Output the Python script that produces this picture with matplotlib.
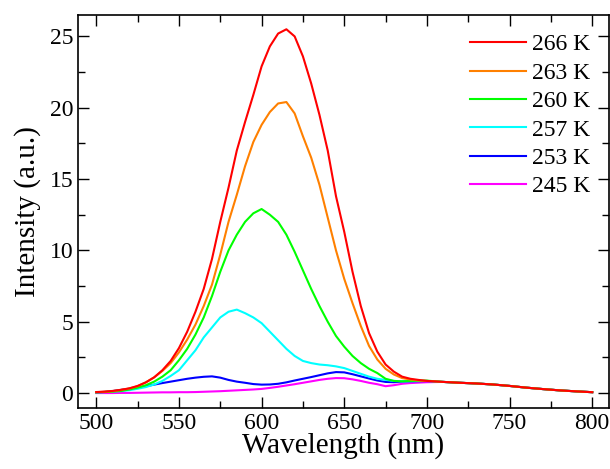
import matplotlib

matplotlib.use("Agg")
import matplotlib.pyplot as plt
from matplotlib.ticker import MultipleLocator

plt.rcParams["font.family"] = "serif"
plt.rcParams["font.serif"] = ["Liberation Serif", "Times New Roman", "DejaVu Serif"]

# wavelength grid (nm): 5 nm steps to 700, then 10 nm steps
wavelength = list(range(500, 701, 5)) + list(range(710, 801, 10))

# common tail past 700 nm, where all spectra overlap
tail = [0.78, 0.72, 0.67, 0.60, 0.50, 0.38, 0.28, 0.19, 0.12, 0.06]

i_266 = [0.07, 0.10, 0.15, 0.23, 0.33, 0.50, 0.75, 1.10, 1.60, 2.25,
         3.15, 4.30, 5.70, 7.30, 9.40, 12.0, 14.4, 17.0, 19.0, 20.9,
         22.9, 24.3, 25.2, 25.5, 25.0, 23.6, 21.7, 19.5, 17.0, 13.8,
         11.3, 8.5, 6.1, 4.2, 2.9, 2.0, 1.5, 1.15, 1.0, 0.92, 0.85] + tail
i_263 = [0.06, 0.09, 0.13, 0.22, 0.32, 0.48, 0.75, 1.10, 1.55, 2.10,
         2.85, 3.75, 4.80, 6.10, 7.60, 9.70, 12.0, 13.9, 15.9, 17.6,
         18.8, 19.7, 20.3, 20.4, 19.6, 18.0, 16.5, 14.6, 12.3, 10.0,
         8.0, 6.3, 4.7, 3.3, 2.35, 1.7, 1.3, 1.05, 0.95, 0.88, 0.85] + tail
i_260 = [0.05, 0.07, 0.10, 0.15, 0.25, 0.38, 0.55, 0.80, 1.15, 1.60,
         2.30, 3.10, 4.10, 5.30, 6.80, 8.50, 10.0, 11.1, 12.0, 12.6,
         12.9, 12.5, 12.0, 11.1, 9.9, 8.6, 7.3, 6.1, 5.0, 4.0,
         3.25, 2.6, 2.1, 1.7, 1.4, 1.0, 0.85, 0.82, 0.85, 0.87, 0.87] + tail
i_257 = [0.05, 0.07, 0.10, 0.14, 0.20, 0.30, 0.42, 0.60, 0.85, 1.20,
         1.60, 2.30, 3.00, 3.90, 4.60, 5.30, 5.70, 5.85, 5.60, 5.30,
         4.90, 4.30, 3.70, 3.10, 2.60, 2.25, 2.10, 2.00, 1.95, 1.87,
         1.75, 1.55, 1.35, 1.15, 1.00, 0.92, 0.85, 0.82, 0.83, 0.84, 0.85] + tail
i_253 = [0.05, 0.08, 0.14, 0.22, 0.30, 0.38, 0.48, 0.59, 0.70, 0.80,
         0.90, 1.00, 1.08, 1.14, 1.17, 1.08, 0.92, 0.80, 0.72, 0.63,
         0.59, 0.60, 0.65, 0.75, 0.88, 1.00, 1.12, 1.25, 1.38, 1.47,
         1.45, 1.32, 1.17, 1.02, 0.88, 0.78, 0.76, 0.80, 0.82, 0.83, 0.84] + tail
i_245 = [0.00, 0.00, 0.00, 0.01, 0.01, 0.02, 0.03, 0.04, 0.05, 0.05,
         0.06, 0.06, 0.07, 0.09, 0.11, 0.13, 0.16, 0.19, 0.22, 0.25,
         0.29, 0.36, 0.44, 0.53, 0.62, 0.72, 0.82, 0.92, 1.00, 1.05,
         1.04, 0.96, 0.85, 0.72, 0.62, 0.48, 0.55, 0.65, 0.70, 0.73, 0.76] + tail

labels = ["266 K", "263 K", "260 K", "257 K", "253 K", "245 K"]
spectra = [i_266, i_263, i_260, i_257, i_253, i_245]
colors = ["#ff0000", "#ff8000", "#00ff00", "#00ffff", "#0000ff", "#ff00ff"]

fig = plt.figure(figsize=(6.10, 4.69), dpi=100)
ax = fig.add_axes([0.128, 0.130, 0.870, 0.838])

# draw lowest temperature first so the red curve ends up on top
for label, values, color in reversed(list(zip(labels, spectra, colors))):
    ax.plot(wavelength, values, color=color, linewidth=1.5, label=label)

ax.set_xlim(489, 810)
ax.set_ylim(-1.05, 26.5)
ax.xaxis.set_major_locator(MultipleLocator(50))
ax.xaxis.set_minor_locator(MultipleLocator(25))
ax.yaxis.set_major_locator(MultipleLocator(5))
ax.yaxis.set_minor_locator(MultipleLocator(2.5))
ax.tick_params(which="both", direction="in", top=True, right=True,
               labelsize=17, width=1.0)
ax.tick_params(which="major", length=8)
ax.tick_params(which="minor", length=5)
for spine in ax.spines.values():
    spine.set_linewidth(1.2)

ax.set_xlabel("Wavelength (nm)", fontsize=21, labelpad=-1)
ax.set_ylabel("Intensity (a.u.)", fontsize=21, labelpad=6)

handles, legend_labels = ax.get_legend_handles_labels()
ax.legend(handles[::-1], legend_labels[::-1], loc="upper right",
          frameon=False, fontsize=17, handlelength=2.35, handletextpad=0.25,
          labelspacing=0.29, borderaxespad=0.4)

fig.savefig("out.png", dpi=100)
